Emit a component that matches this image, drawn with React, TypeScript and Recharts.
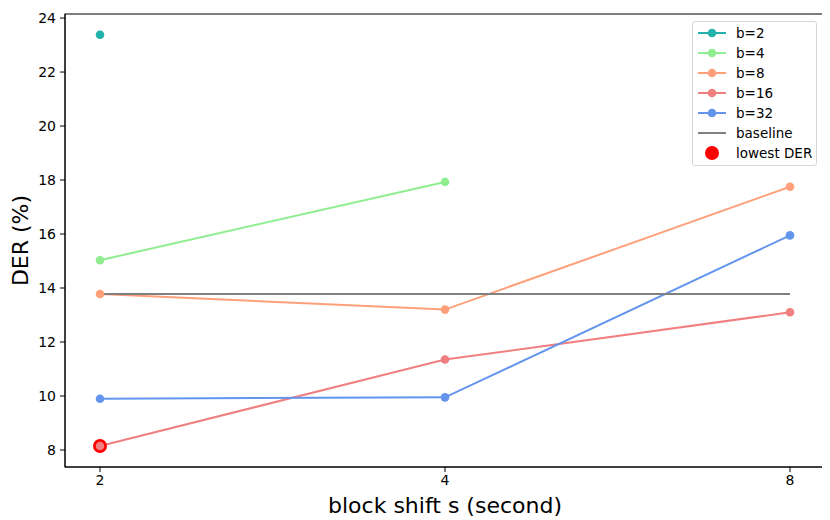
import React from "react";
import { LineChart, Line, XAxis, YAxis, Label, usePlotArea } from "recharts";

const shifts = ["2", "4", "8"];
const b2 = [23.38, null, null];
const b4 = [15.03, 17.93, null];
const b8 = [13.78, 13.2, 17.75];
const b16 = [8.15, 11.35, 13.1];
const b32 = [9.9, 9.95, 15.95];
const baseline = [13.78, 13.78, 13.78];
const lowest = [8.15, null, null];
const yTicks = [8, 10, 12, 14, 16, 18, 20, 22, 24];

const data = shifts.map((s, i) => ({
  s,
  b2: b2[i],
  b4: b4[i],
  b8: b8[i],
  b16: b16[i],
  b32: b32[i],
  baseline: baseline[i],
  lowest: lowest[i],
}));

const FONT = "DejaVu Sans, sans-serif";

const legendItems = [
  { label: "b=2", color: "#20B2AA", kind: "line-dot" },
  { label: "b=4", color: "#90EE90", kind: "line-dot" },
  { label: "b=8", color: "#FFA07A", kind: "line-dot" },
  { label: "b=16", color: "#F08080", kind: "line-dot" },
  { label: "b=32", color: "#6495ED", kind: "line-dot" },
  { label: "baseline", color: "#808080", kind: "line" },
  { label: "lowest DER", color: "#FF0000", kind: "dot" },
];

const LegendBox = () => (
  <div
    style={{
      position: "absolute",
      left: 684,
      top: 13,
      width: 125,
      boxSizing: "border-box",
      border: "1px solid #d6d6d6",
      borderRadius: 3,
      background: "white",
      padding: "1px 4px 2px 4px",
      fontFamily: FONT,
      fontSize: 13.5,
      color: "#000",
    }}
  >
    {legendItems.map((it) => (
      <div key={it.label} style={{ display: "flex", alignItems: "center", height: 20 }}>
        <svg width={30} height={20} style={{ marginRight: 9, flex: "none" }}>
          {it.kind !== "dot" && (
            <line x1={1} x2={29} y1={10} y2={10} stroke={it.color} strokeWidth={2} />
          )}
          {it.kind === "line-dot" && <circle cx={15} cy={10} r={4.3} fill={it.color} />}
          {it.kind === "dot" && <circle cx={15} cy={10} r={7} fill={it.color} />}
        </svg>
        <span style={{ whiteSpace: "nowrap" }}>{it.label}</span>
      </div>
    ))}
  </div>
);

const Frame = () => {
  const pa: any = usePlotArea ? usePlotArea() : null;
  if (!pa) return null;
  return (
    <rect x={pa.x} y={pa.y} width={pa.width} height={pa.height} fill="none" stroke="#000" strokeWidth={1} />
  );
};

const mkDot = (color: string, r: number) => (props: any) => {
  const { cx, cy, value, index } = props;
  if (value === null || value === undefined || cx == null || cy == null) return <g key={index} />;
  return <circle key={index} cx={cx} cy={cy} r={r} fill={color} />;
};

export default function App() {
  return (
    <div style={{ position: "relative", width: 822, height: 512 }}>
      <LineChart
        width={822}
        height={512}
        data={data}
        margin={{ top: 6, right: 5, left: 0, bottom: 0 }}
        style={{ fontFamily: FONT }}
      >
        <XAxis
          dataKey="s"
          padding={{ left: 35, right: 35 }}
          height={53}
          tickSize={5}
          tickMargin={3}
          axisLine={{ stroke: "#000" }}
          tickLine={{ stroke: "#000" }}
          tick={{ fill: "#000", fontSize: 14, fontFamily: FONT }}
        >
          <Label
            content={(p: any) => {
              const vb = p.viewBox;
              return (
                <text
                  x={vb.x + vb.width / 2}
                  y={vb.y + 38}
                  textAnchor="middle"
                  dominantBaseline="central"
                  fontSize={22}
                  fontFamily={FONT}
                  fill="#000"
                >
                  block shift s (second)
                </text>
              );
            }}
          />
        </XAxis>
        <YAxis
          domain={[7.37, 24.15]}
          ticks={yTicks}
          width={57}
          tickSize={5}
          tickMargin={4}
          allowDataOverflow
          axisLine={{ stroke: "#000" }}
          tickLine={{ stroke: "#000" }}
          tick={{ fill: "#000", fontSize: 14, fontFamily: FONT }}
        >
          <Label
            content={(p: any) => {
              const vb = p.viewBox;
              const cx = 12;
              const cy = vb.y + vb.height / 2;
              return (
                <text
                  x={cx}
                  y={cy}
                  transform={`rotate(-90 ${cx} ${cy})`}
                  textAnchor="middle"
                  dominantBaseline="central"
                  fontSize={22}
                  fontFamily={FONT}
                  fill="#000"
                >
                  DER (%)
                </text>
              );
            }}
          />
        </YAxis>
        <Frame />
        <Line dataKey="lowest" stroke="none" isAnimationActive={false} dot={mkDot("#FF0000", 7)} activeDot={false} />
        <Line dataKey="b2" stroke="#20B2AA" strokeWidth={2} isAnimationActive={false} dot={mkDot("#20B2AA", 4.3)} activeDot={false} />
        <Line dataKey="b4" stroke="#90EE90" strokeWidth={2} isAnimationActive={false} dot={mkDot("#90EE90", 4.3)} activeDot={false} />
        <Line dataKey="b8" stroke="#FFA07A" strokeWidth={2} isAnimationActive={false} dot={mkDot("#FFA07A", 4.3)} activeDot={false} />
        <Line dataKey="b16" stroke="#F08080" strokeWidth={2} isAnimationActive={false} dot={mkDot("#F08080", 4.3)} activeDot={false} />
        <Line dataKey="b32" stroke="#6495ED" strokeWidth={2} isAnimationActive={false} dot={mkDot("#6495ED", 4.3)} activeDot={false} />
        <Line dataKey="baseline" stroke="#808080" strokeWidth={2} isAnimationActive={false} dot={false} activeDot={false} />
      </LineChart>
      <LegendBox />
    </div>
  );
}
